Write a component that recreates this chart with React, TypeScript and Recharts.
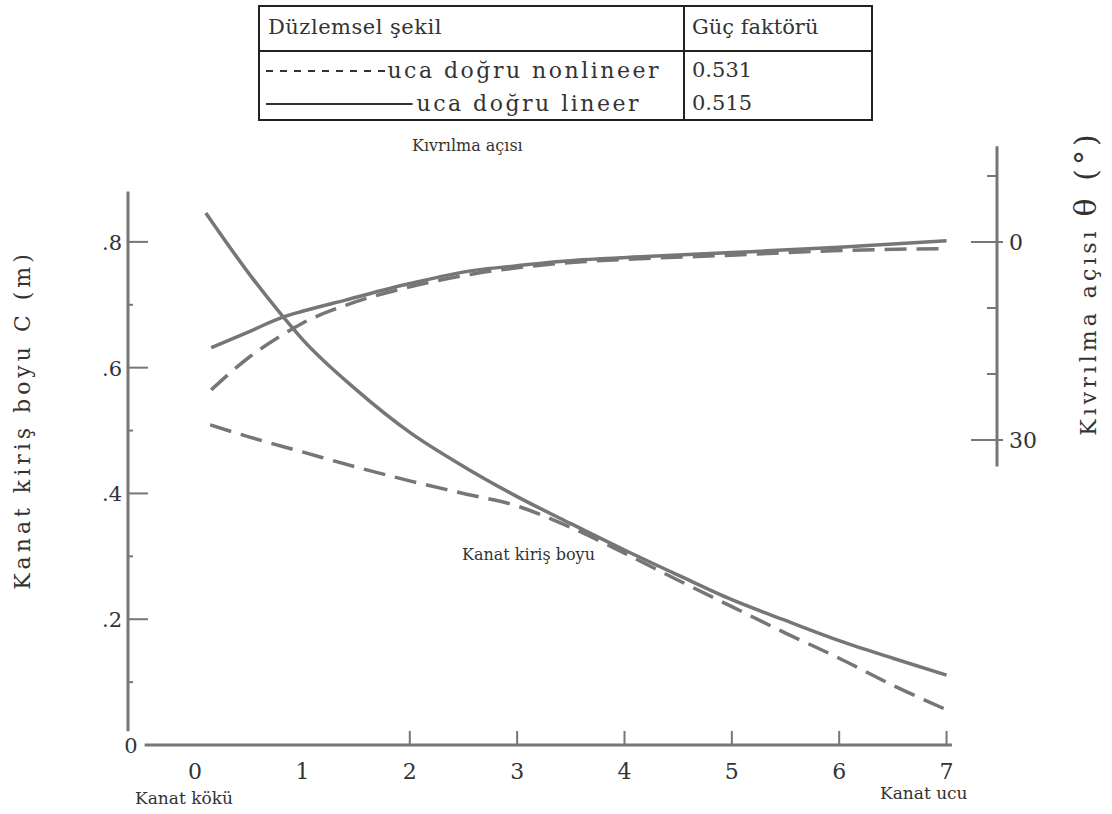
import React from "react";
import { ComposedChart, Line, XAxis, YAxis, ReferenceLine } from "recharts";

// span position along the blade (x axis)
const xTicks = [0, 1, 2, 3, 4, 5, 6, 7];
const chordTicks = [0, 0.1, 0.2, 0.3, 0.4, 0.5, 0.6, 0.7, 0.8];
const chordTickLabels: Record<string, string> = { "0": "0", "0.2": ".2", "0.4": ".4", "0.6": ".6", "0.8": ".8" };
const twistTicks = [-10, 0, 10, 20, 30];
const twistTickLabels: Record<string, string> = { "0": "0", "30": "30" };

// chord length C (m)
const chordLineerX = [0.1, 0.5, 0.8, 1.0, 1.5, 2.0, 2.5, 3.0, 3.5, 4.0, 4.5, 5.0, 5.5, 6.0, 6.5, 7.0];
const chordLineerC = [0.846, 0.75, 0.685, 0.645, 0.565, 0.497, 0.443, 0.395, 0.352, 0.31, 0.27, 0.231, 0.198, 0.166, 0.138, 0.111];
const chordNonlineerX = [0.14, 0.5, 1.0, 1.5, 2.0, 2.5, 3.0, 3.5, 4.0, 4.5, 5.0, 5.5, 6.0, 6.5, 7.0];
const chordNonlineerC = [0.509, 0.49, 0.466, 0.442, 0.42, 0.4, 0.38, 0.346, 0.305, 0.262, 0.22, 0.178, 0.138, 0.095, 0.056];

// twist angle theta (deg)
const twistLineerX = [0.15, 0.5, 0.8, 1.0, 1.4, 2.0, 2.6, 3.0, 3.6, 4.2, 5.0, 6.0, 7.0];
const twistLineerT = [16.0, 13.6, 11.5, 10.5, 8.8, 6.3, 4.3, 3.6, 2.7, 2.2, 1.6, 0.8, -0.2];
const twistNonlineerX = [0.15, 0.5, 0.8, 1.0, 1.4, 2.0, 2.6, 3.0, 3.6, 4.2, 5.0, 6.0, 7.0];
const twistNonlineerT = [22.4, 17.5, 14.2, 12.3, 9.6, 6.8, 4.8, 3.9, 3.0, 2.5, 2.0, 1.3, 1.0];

const chordLineer = chordLineerX.map((x, i) => ({ x, c: chordLineerC[i] }));
const chordNonlineer = chordNonlineerX.map((x, i) => ({ x, c: chordNonlineerC[i] }));
const twistLineer = twistLineerX.map((x, i) => ({ x, t: twistLineerT[i] }));
const twistNonlineer = twistNonlineerX.map((x, i) => ({ x, t: twistNonlineerT[i] }));

const PLOT_LEFT = 128;
const PLOT_RIGHT = 997;
const AXIS_Y = 745;
const INK = "#333";
const LINE = "#767676";
const SERIF = "'DejaVu Serif', 'Liberation Serif', serif";

function XTick(props: any) {
  const { x, payload } = props;
  const v = payload.value;
  return (
    <g>
      {v >= 2 && <line x1={x} x2={x} y1={AXIS_Y} y2={AXIS_Y - 14} stroke={LINE} strokeWidth={2} />}
      <text x={x} y={AXIS_Y + 34} textAnchor="middle" fontFamily={SERIF} fontSize={22} fill={INK}>
        {v}
      </text>
    </g>
  );
}

function ChordTick(props: any) {
  const { y, payload } = props;
  const label = chordTickLabels[String(payload.value)];
  const origin = payload.value === 0;
  const major = label !== undefined && !origin;
  return (
    <g>
      {!origin && (
        <line x1={PLOT_LEFT} x2={PLOT_LEFT + (major ? 20 : 5)} y1={y} y2={y} stroke={LINE} strokeWidth={2} />
      )}
      {label !== undefined && (
        <text
          x={origin ? PLOT_LEFT + 3 : PLOT_LEFT - 6}
          y={y + 8}
          textAnchor={origin ? "middle" : "end"}
          fontFamily={SERIF}
          fontSize={21}
          fill={INK}
        >
          {label}
        </text>
      )}
    </g>
  );
}

function TwistTick(props: any) {
  const { y, payload } = props;
  const label = twistTickLabels[String(payload.value)];
  return (
    <g>
      <line
        x1={PLOT_RIGHT - (label ? 26 : 10)}
        x2={PLOT_RIGHT + (label ? 6 : 0)}
        y1={y}
        y2={y}
        stroke={LINE}
        strokeWidth={2}
      />
      {label && (
        <text x={PLOT_RIGHT + 12} y={y + 8} textAnchor="start" fontFamily={SERIF} fontSize={22} fill={INK}>
          {label}
        </text>
      )}
    </g>
  );
}

const textStyle: React.CSSProperties = {
  position: "absolute",
  fontFamily: SERIF,
  color: INK,
  whiteSpace: "nowrap",
};

export default function App() {
  return (
    <div style={{ position: "absolute", left: 0, top: 0, width: 1112, height: 814, background: "#fff" }}>
      <ComposedChart width={1112} height={814} margin={{ top: 140, right: 55, bottom: 29, left: 68 }}>
        <XAxis
          type="number"
          dataKey="x"
          domain={[-0.625, 7.47]}
          ticks={xTicks}
          allowDataOverflow
          axisLine={false}
          tickLine={false}
          height={40}
          tick={<XTick />}
        />
        <YAxis
          yAxisId="c"
          type="number"
          domain={[0, 0.962]}
          ticks={chordTicks}
          allowDataOverflow
          width={60}
          axisLine={false}
          tickLine={false}
          tick={<ChordTick />}
        />
        <YAxis
          yAxisId="t"
          orientation="right"
          type="number"
          reversed
          domain={[-15.45, 76.2]}
          ticks={twistTicks}
          allowDataOverflow
          width={60}
          axisLine={false}
          tickLine={false}
          tick={<TwistTick />}
        />
        <ReferenceLine
          yAxisId="c"
          segment={[{ x: -0.625, y: 0.022 }, { x: -0.625, y: 0.88 }]}
          stroke={LINE}
          strokeWidth={3}
          ifOverflow="visible"
        />
        <ReferenceLine
          yAxisId="c"
          segment={[{ x: -0.47, y: 0 }, { x: 7.05, y: 0 }]}
          stroke={LINE}
          strokeWidth={3}
          ifOverflow="visible"
        />
        <ReferenceLine
          yAxisId="t"
          segment={[{ x: 7.47, y: -14.5 }, { x: 7.47, y: 34 }]}
          stroke={LINE}
          strokeWidth={3}
          ifOverflow="visible"
        />
        <Line yAxisId="c" data={chordLineer} dataKey="c" type="monotone" stroke={LINE} strokeWidth={3.5} dot={false} isAnimationActive={false} />
        <Line yAxisId="c" data={chordNonlineer} dataKey="c" type="monotone" stroke={LINE} strokeWidth={3.5} strokeDasharray="22 10" dot={false} isAnimationActive={false} />
        <Line yAxisId="t" data={twistLineer} dataKey="t" type="monotone" stroke={LINE} strokeWidth={3.5} dot={false} isAnimationActive={false} />
        <Line yAxisId="t" data={twistNonlineer} dataKey="t" type="monotone" stroke={LINE} strokeWidth={3.5} strokeDasharray="22 10" dot={false} isAnimationActive={false} />
      </ComposedChart>

      {/* legend table */}
      <div
        style={{
          position: "absolute",
          left: 258,
          top: 5,
          width: 615,
          height: 116,
          border: "2px solid #222",
          boxSizing: "border-box",
          fontFamily: SERIF,
          fontSize: 21,
          color: INK,
        }}
      >
        <div style={{ position: "absolute", left: 423, top: 0, bottom: 0, borderLeft: "2px solid #222" }} />
        <div style={{ position: "absolute", left: 0, right: 0, top: 43, borderTop: "2px solid #222" }} />
        <div style={{ position: "absolute", left: 8, top: 8, letterSpacing: 0.5 }}>Düzlemsel şekil</div>
        <div style={{ position: "absolute", left: 432, top: 8 }}>Güç faktörü</div>
        <div style={{ position: "absolute", left: 6, right: 210, top: 51, display: "flex", alignItems: "center", fontSize: 22, letterSpacing: 2.5 }}>
          <svg style={{ flex: 1 }} height={10}>
            <line x1={0} x2="100%" y1={5} y2={5} stroke={INK} strokeWidth={2} strokeDasharray="7 7" />
          </svg>
          <span style={{ marginLeft: 2 }}>uca doğru nonlineer</span>
        </div>
        <div style={{ position: "absolute", left: 6, right: 230, top: 84, display: "flex", alignItems: "center", fontSize: 22, letterSpacing: 2.5 }}>
          <svg style={{ flex: 1 }} height={10}>
            <line x1={0} x2="100%" y1={5} y2={5} stroke={INK} strokeWidth={2} />
          </svg>
          <span style={{ marginLeft: 4 }}>uca doğru lineer</span>
        </div>
        <div style={{ position: "absolute", left: 432, top: 51 }}>0.531</div>
        <div style={{ position: "absolute", left: 432, top: 84 }}>0.515</div>
      </div>

      <div style={{ ...textStyle, left: 412, top: 136, fontSize: 16 }}>Kıvrılma açısı</div>
      <div style={{ ...textStyle, left: 462, top: 545, fontSize: 16 }}>Kanat kiriş boyu</div>
      <div style={{ ...textStyle, left: 135, top: 788, fontSize: 17 }}>Kanat kökü</div>
      <div style={{ ...textStyle, left: 880, top: 783, fontSize: 17 }}>Kanat ucu</div>

      <div
        style={{
          ...textStyle,
          left: 22,
          top: 420,
          fontSize: 22,
          letterSpacing: 4,
          transform: "translate(-50%, -50%) rotate(-90deg)",
        }}
      >
        Kanat kiriş boyu C (m)
      </div>
      <div
        style={{
          ...textStyle,
          left: 1085,
          top: 283,
          fontSize: 22,
          letterSpacing: 4,
          transform: "translate(-50%, -50%) rotate(-90deg)",
        }}
      >
        Kıvrılma açısı <span style={{ fontSize: 30 }}>θ (°)</span>
      </div>
    </div>
  );
}
